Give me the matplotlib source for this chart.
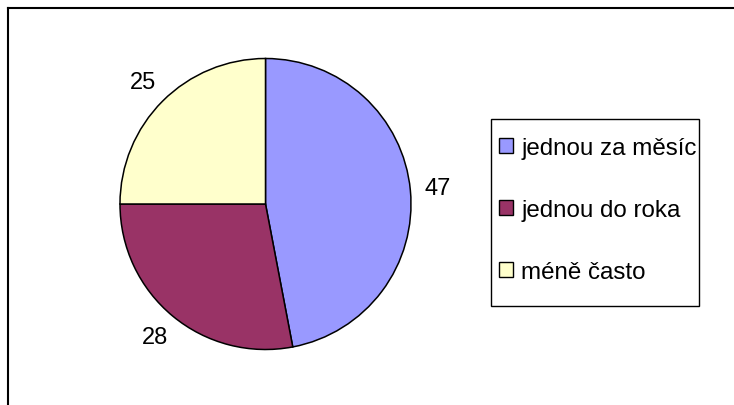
import matplotlib.pyplot as plt
from matplotlib.lines import Line2D
from matplotlib.patches import Rectangle

labels = ["jednou za měsíc", "jednou do roka", "méně často"]
values = [47, 28, 25]
colors = ["#9999FF", "#993366", "#FFFFCC"]

plt.rcParams["font.family"] = ["Liberation Sans", "DejaVu Sans"]

W, H = 734, 406
fig = plt.figure(figsize=(W / 100, H / 100), dpi=100)

# pie area: centre ~ (265, 205), radius ~145 px
cx, cy, r = 265.5, 205, 145.5
ax = fig.add_axes([(cx - r) / W, (H - cy - r) / H, 2 * r / W, 2 * r / H])
wedges, texts = ax.pie(values, colors=colors, startangle=90, counterclock=False,
                       labels=[str(v) for v in values], labeldistance=1.19,
                       wedgeprops=dict(edgecolor="black", linewidth=1.1),
                       textprops=dict(fontsize=17))
for t in texts:
    t.set_ha("center")
    t.set_va("center")
ax.set_xlim(-1, 1)
ax.set_ylim(-1, 1)
ax.set_aspect("equal")

# legend box drawn separately, entries placed inside it
fig.add_artist(Rectangle((491 / W, 1 - 307 / H), 208 / W, 187 / H, facecolor="white",
                         edgecolor="black", lw=1.0, transform=fig.transFigure, zorder=1))
leg = fig.legend(wedges, labels, loc="upper left",
                 bbox_to_anchor=(499 / W, 1 - 138 / H),
                 bbox_transform=fig.transFigure,
                 fontsize=17.4, frameon=False, borderpad=0, labelspacing=1.66,
                 handlelength=0.58, handleheight=0.58, handletextpad=0.35,
                 borderaxespad=0)
leg.set_zorder(2)
for h in leg.legend_handles:
    h.set_edgecolor("black")
    h.set_linewidth(1.0)

# outer chart border (only top and left edges visible)
fig.add_artist(Line2D([7.5 / W, 1], [1 - 8.5 / H, 1 - 8.5 / H], color="black", lw=1.5,
                      transform=fig.transFigure))
fig.add_artist(Line2D([7.5 / W, 7.5 / W], [0, 1 - 8.5 / H], color="black", lw=1.5,
                      transform=fig.transFigure))

fig.savefig("out.png", dpi=100)
